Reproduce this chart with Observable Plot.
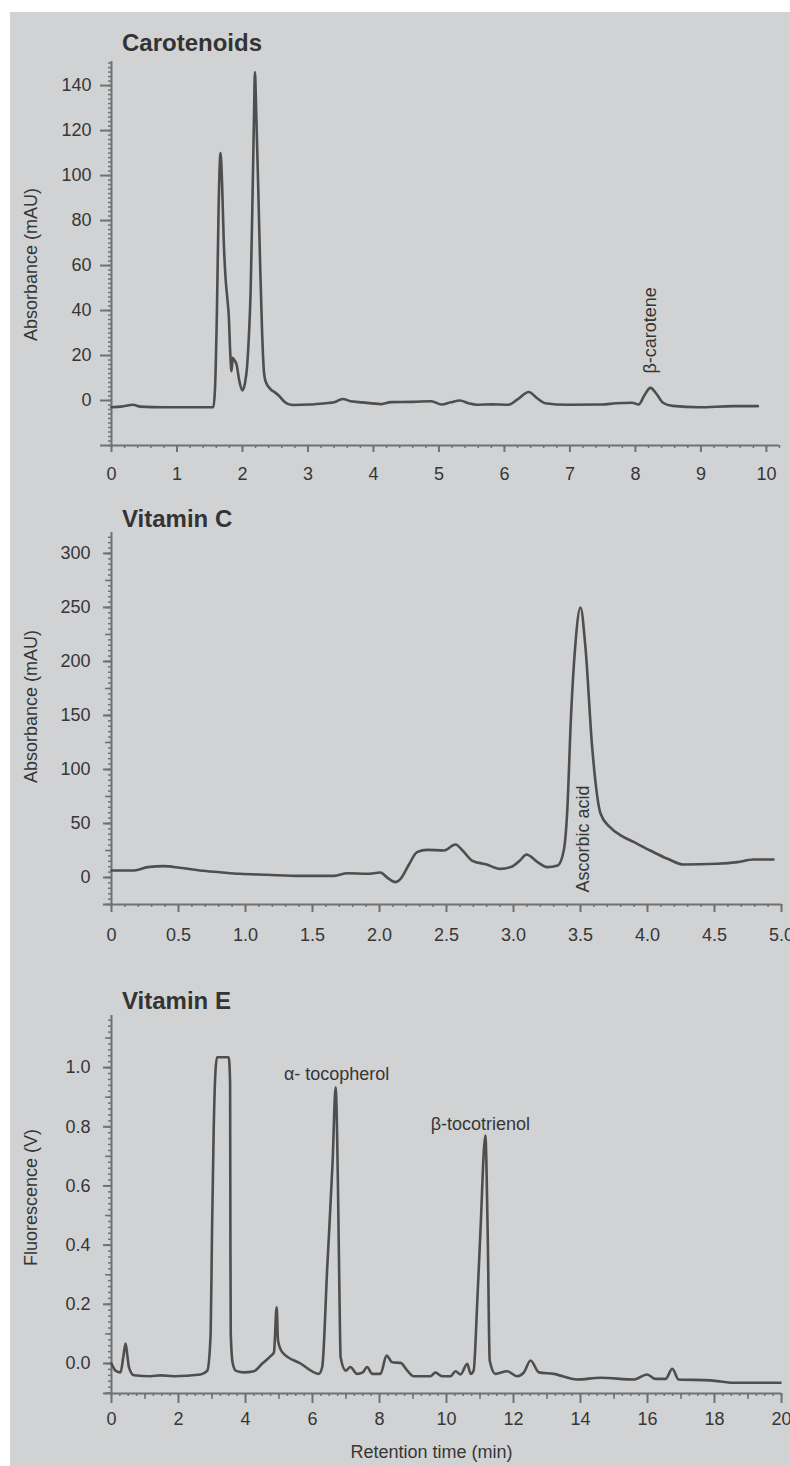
<!DOCTYPE html>
<html>
<head>
<meta charset="utf-8">
<script src="https://cdn.jsdelivr.net/npm/d3@7"></script>
<script src="https://cdn.jsdelivr.net/npm/@observablehq/plot@0.6"></script>
<style>
  html, body { margin: 0; padding: 0; background: #ffffff; }
  #page { position: relative; width: 790px; height: 1466px; overflow: hidden; font-family: "Liberation Sans", Arial, sans-serif; }
  #bg { position: absolute; left: 10px; top: 12px; right: 0; bottom: 0; background: #d1d2d4; }
  .title { position: absolute; left: 122px; font-weight: bold; font-size: 24px; color: #333333; white-space: nowrap; }
  .panel { position: absolute; left: 0; }
</style>
</head>
<body>
<div id="page">
  <div id="bg"></div>
  <div class="title" style="top:29px">Carotenoids</div>
  <div class="title" style="top:505px">Vitamin C</div>
  <div class="title" style="top:987px">Vitamin E</div>
  <div class="panel" id="p1" style="top:0px"></div>
  <div class="panel" id="p2" style="top:500px"></div>
  <div class="panel" id="p3" style="top:970px"></div>
</div>
<script>
// ---------- Carotenoids ----------
const carotTime = [0, 0.15, 0.33, 0.44, 0.8, 1.2, 1.555, 1.58, 1.61, 1.635, 1.665, 1.69, 1.715, 1.74, 1.77, 1.79, 1.815, 1.833, 1.85, 1.875, 1.91, 1.95, 1.997, 2.04, 2.07, 2.1, 2.124, 2.15, 2.175, 2.19, 2.21, 2.24, 2.27, 2.3, 2.33, 2.36, 2.43, 2.5, 2.56, 2.64, 2.69, 2.78, 3.02, 3.27, 3.4, 3.53, 3.65, 3.78, 4.07, 4.12, 4.27, 4.6, 4.885, 5.04, 5.18, 5.32, 5.45, 5.575, 5.8, 6.06, 6.2, 6.37, 6.5, 6.62, 6.96, 7.49, 7.7, 7.95, 8.05, 8.14, 8.23, 8.32, 8.42, 8.57, 8.97, 9.49, 9.87];
const carotAbs = [-3, -2.7, -1.9, -2.7, -3, -3, -3, 5, 40, 85, 110, 95, 70, 55, 45, 38, 20, 13, 19, 18, 16, 9, 4.5, 8, 15, 30, 48, 85, 125, 146, 128, 95, 60, 30, 12, 8, 5, 3.5, 2, -0.5, -1.5, -2, -1.8, -1.2, -0.8, 0.7, -0.3, -0.7, -1.5, -1.6, -0.7, -0.6, -0.3, -1.8, -0.8, 0, -1.2, -1.9, -1.7, -1.9, 0.5, 3.8, 1, -1.2, -1.9, -1.8, -1.2, -1, -1.8, 2.5, 5.6, 3, -1, -2.4, -3, -2.5, -2.5];
const carotXTicks = [0, 1, 2, 3, 4, 5, 6, 7, 8, 9, 10];
const carotYTicks = [0, 20, 40, 60, 80, 100, 120, 140];
const carotNoteText = ["β-carotene"];
const carotNoteX = [8.23];
const carotNoteY = [12];

// ---------- Vitamin C ----------
const vitCTime = [0, 0.17, 0.27, 0.39, 0.51, 0.66, 0.81, 0.96, 1.16, 1.41, 1.66, 1.76, 1.91, 2.007, 2.06, 2.12, 2.157, 2.22, 2.28, 2.356, 2.48, 2.567, 2.62, 2.69, 2.8, 2.9, 2.99, 3.05, 3.097, 3.18, 3.25, 3.33, 3.375, 3.4, 3.43, 3.46, 3.5, 3.537, 3.587, 3.65, 3.72, 3.8, 3.9, 4.02, 4.15, 4.27, 4.52, 4.67, 4.79, 4.94];
const vitCAbs = [6.5, 6.5, 9.6, 10.5, 9, 6.5, 4.9, 3.4, 2.5, 1.5, 1.5, 4, 3.4, 4.6, -0.3, -4.3, -1.2, 12, 23.5, 25.6, 25, 30.6, 25, 15.7, 12, 8, 10.2, 16, 21.3, 14.2, 9.6, 11.1, 25, 59, 151.6, 213, 250, 213, 120.6, 59, 46.6, 39, 32.7, 25, 17.3, 12, 12.7, 14.2, 16.7, 16.7];
const vitCXTicks = [0, 0.5, 1, 1.5, 2, 2.5, 3, 3.5, 4, 4.5, 5];
const vitCYTicks = [0, 50, 100, 150, 200, 250, 300];
const vitCNoteText = ["Ascorbic acid"];
const vitCNoteX = [3.52];
const vitCNoteY = [-14];

// ---------- Vitamin E ----------
const vitETime = [0, 0.12, 0.27, 0.35, 0.42, 0.47, 0.52, 0.67, 1.16, 1.46, 1.86, 2.66, 2.86, 2.96, 3.0, 3.05, 3.1, 3.15, 3.5, 3.54, 3.55, 3.56, 3.62, 3.72, 3.95, 4.25, 4.5, 4.75, 4.85, 4.93, 4.97, 5.1, 5.64, 6.19, 6.29, 6.44, 6.6, 6.69, 6.76, 6.8, 6.84, 6.99, 7.13, 7.33, 7.5, 7.63, 7.78, 8.03, 8.21, 8.38, 8.63, 8.83, 9.02, 9.52, 9.67, 9.87, 10.12, 10.27, 10.42, 10.62, 10.72, 10.81, 10.92, 11.01, 11.16, 11.23, 11.29, 11.46, 11.81, 12.11, 12.31, 12.51, 12.76, 13.2, 13.9, 14.6, 15.6, 15.99, 16.24, 16.54, 16.74, 16.93, 17.88, 18.58, 19.97];
const vitEFluor = [0, -0.024, -0.03, 0.02, 0.067, 0.03, -0.012, -0.04, -0.043, -0.04, -0.043, -0.037, -0.024, 0.1, 0.44, 0.787, 0.98, 1.035, 1.035, 0.95, 0.4, 0.1, 0, -0.025, -0.03, -0.026, 0, 0.025, 0.038, 0.19, 0.078, 0.038, 0, -0.035, -0.012, 0.325, 0.68, 0.933, 0.6, 0.27, 0.02, -0.024, -0.012, -0.035, -0.03, -0.012, -0.035, -0.035, 0.027, 0.004, 0.002, -0.024, -0.043, -0.043, -0.031, -0.043, -0.043, -0.026, -0.037, -0.001, -0.035, -0.024, 0.213, 0.438, 0.77, 0.438, 0.01, -0.035, -0.026, -0.043, -0.03, 0.01, -0.03, -0.035, -0.054, -0.048, -0.054, -0.037, -0.052, -0.052, -0.018, -0.054, -0.057, -0.065, -0.065];
const vitEXTicks = [0, 2, 4, 6, 8, 10, 12, 14, 16, 18, 20];
const vitEYTicks = [0, 0.2, 0.4, 0.6, 0.8, 1.0];
const vitENoteText = ["α- tocopherol", "β-tocotrienol"];
const vitENoteX = [6.72, 11.01];
const vitENoteY = [0.976, 0.807];

const axisColor = "#717171";
const textColor = "#363636";
const traceColor = "#4e4e4e";
const FONT = "'Liberation Sans', Arial, sans-serif";

function range(a, b, step) {
  const out = [];
  const n = Math.round((b - a) / step);
  for (let i = 0; i <= n; i++) out.push(+(a + i * step).toFixed(6));
  return out;
}

function panel(cfg) {
  const rows = cfg.time.map((t, i) => ({t, v: cfg.signal[i]}));
  const notes = cfg.noteText.map((s, i) => ({label: s, x: cfg.noteX[i], y: cfg.noteY[i]}));
  const marks = [
    // axis frame lines
    Plot.ruleX([cfg.xDomain[0]], {stroke: axisColor, strokeWidth: 2}),
    Plot.ruleY([cfg.yDomain[0]], {stroke: axisColor, strokeWidth: 2, insetLeft: -cfg.yTickSize}),
    // minor ticks
    Plot.axisX(cfg.xMinor, {anchor: "bottom", tickSize: 3, stroke: axisColor, strokeWidth: 1.5, fill: "none", label: null}),
    Plot.axisY(cfg.yMinor, {anchor: "left", tickSize: 3, stroke: axisColor, strokeWidth: 1.5, fill: "none", label: null}),
  ];
  if (cfg.xMedium) marks.push(Plot.axisX(cfg.xMedium, {anchor: "bottom", tickSize: 6, stroke: axisColor, strokeWidth: 1.5, fill: "none", label: null}));
  if (cfg.yMedium) marks.push(Plot.axisY(cfg.yMedium, {anchor: "left", tickSize: 6, stroke: axisColor, strokeWidth: 1.5, fill: "none", label: null}));
  marks.push(
    Plot.axisX(cfg.xTicks, {anchor: "bottom", tickSize: cfg.xTickSize, tickPadding: cfg.xTickPad, stroke: axisColor, strokeWidth: 2, fill: textColor, tickFormat: cfg.xFormat, label: null, fontSize: 18}),
    Plot.axisY(cfg.yTicks, {anchor: "left", tickSize: cfg.yTickSize, tickPadding: cfg.yTickPad, stroke: axisColor, strokeWidth: 2, fill: textColor, tickFormat: cfg.yFormat, label: null, fontSize: 18}),
    Plot.line(rows, {x: "t", y: "v", stroke: traceColor, strokeWidth: 2.6, curve: "monotone-x", strokeLinejoin: "round"}),
    Plot.text(notes, {x: "x", y: "y", text: "label", fill: textColor, fontSize: 18, rotate: cfg.noteRotate, textAnchor: cfg.noteAnchor}),
    Plot.text([cfg.yLabel], {frameAnchor: "left", rotate: -90, textAnchor: "middle", lineAnchor: "middle", dx: -80, dy: cfg.yLabelDy, fill: textColor, fontSize: 18})
  );
  if (cfg.xLabel) marks.push(Plot.text([cfg.xLabel], {frameAnchor: "bottom", textAnchor: "middle", lineAnchor: "middle", dx: -15, dy: 59, fill: textColor, fontSize: 18}));
  return Plot.plot({
    width: 790,
    height: cfg.height,
    marginLeft: 111,
    marginRight: cfg.marginRight,
    marginTop: cfg.marginTop,
    marginBottom: cfg.marginBottom,
    style: {background: "transparent", fontFamily: FONT, fontSize: "18px", color: textColor, overflow: "visible"},
    x: {domain: cfg.xDomain},
    y: {domain: cfg.yDomain},
    marks
  });
}

document.getElementById("p1").append(panel({
  time: carotTime, signal: carotAbs,
  xDomain: [0, 10.2], yDomain: [-20, 150.7],
  height: 500, marginTop: 61, marginBottom: 55, marginRight: 11,
  xTicks: carotXTicks, xFormat: d => String(d), xMinor: range(0, 10.2, 0.2),
  yTicks: carotYTicks, yFormat: d => String(d), yMinor: range(-20, 150, 2),
  xTickSize: 7, xTickPad: 15, yTickSize: 11, yTickPad: 9,
  noteText: carotNoteText, noteX: carotNoteX, noteY: carotNoteY, noteRotate: -90, noteAnchor: "start",
  yLabel: "Absorbance (mAU)", yLabelDy: 11
}));

document.getElementById("p2").append(panel({
  time: vitCTime, signal: vitCAbs,
  xDomain: [0, 5], yDomain: [-25, 319.4],
  height: 470, marginTop: 32, marginBottom: 66, marginRight: 9,
  xTicks: vitCXTicks, xFormat: d => d === 0 ? "0" : d.toFixed(1), xMinor: range(0, 5, 0.1),
  yTicks: vitCYTicks, yFormat: d => String(d), yMinor: range(-25, 315, 5), yMedium: range(-25, 300, 25),
  xTickSize: 8, xTickPad: 16, yTickSize: 8, yTickPad: 13,
  noteText: vitCNoteText, noteX: vitCNoteX, noteY: vitCNoteY, noteRotate: -90, noteAnchor: "start",
  yLabel: "Absorbance (mAU)", yLabelDy: -12
}));

document.getElementById("p3").append(panel({
  time: vitETime, signal: vitEFluor,
  xDomain: [0, 20], yDomain: [-0.1014, 1.176],
  height: 496, marginTop: 45, marginBottom: 73, marginRight: 9,
  xTicks: vitEXTicks, xFormat: d => String(d), xMinor: range(0, 20, 0.25), xMedium: range(1, 19, 2),
  yTicks: vitEYTicks, yFormat: d => d.toFixed(1), yMinor: range(-0.1, 1.16, 0.02), yMedium: range(-0.1, 1.1, 0.1),
  xTickSize: 10, xTickPad: 9, yTickSize: 8, yTickPad: 13,
  noteText: vitENoteText, noteX: vitENoteX, noteY: vitENoteY, noteRotate: 0, noteAnchor: "middle",
  yLabel: "Fluorescence (V)", yLabelDy: -7, xLabel: "Retention time (min)"
}));
</script>
</body>
</html>
